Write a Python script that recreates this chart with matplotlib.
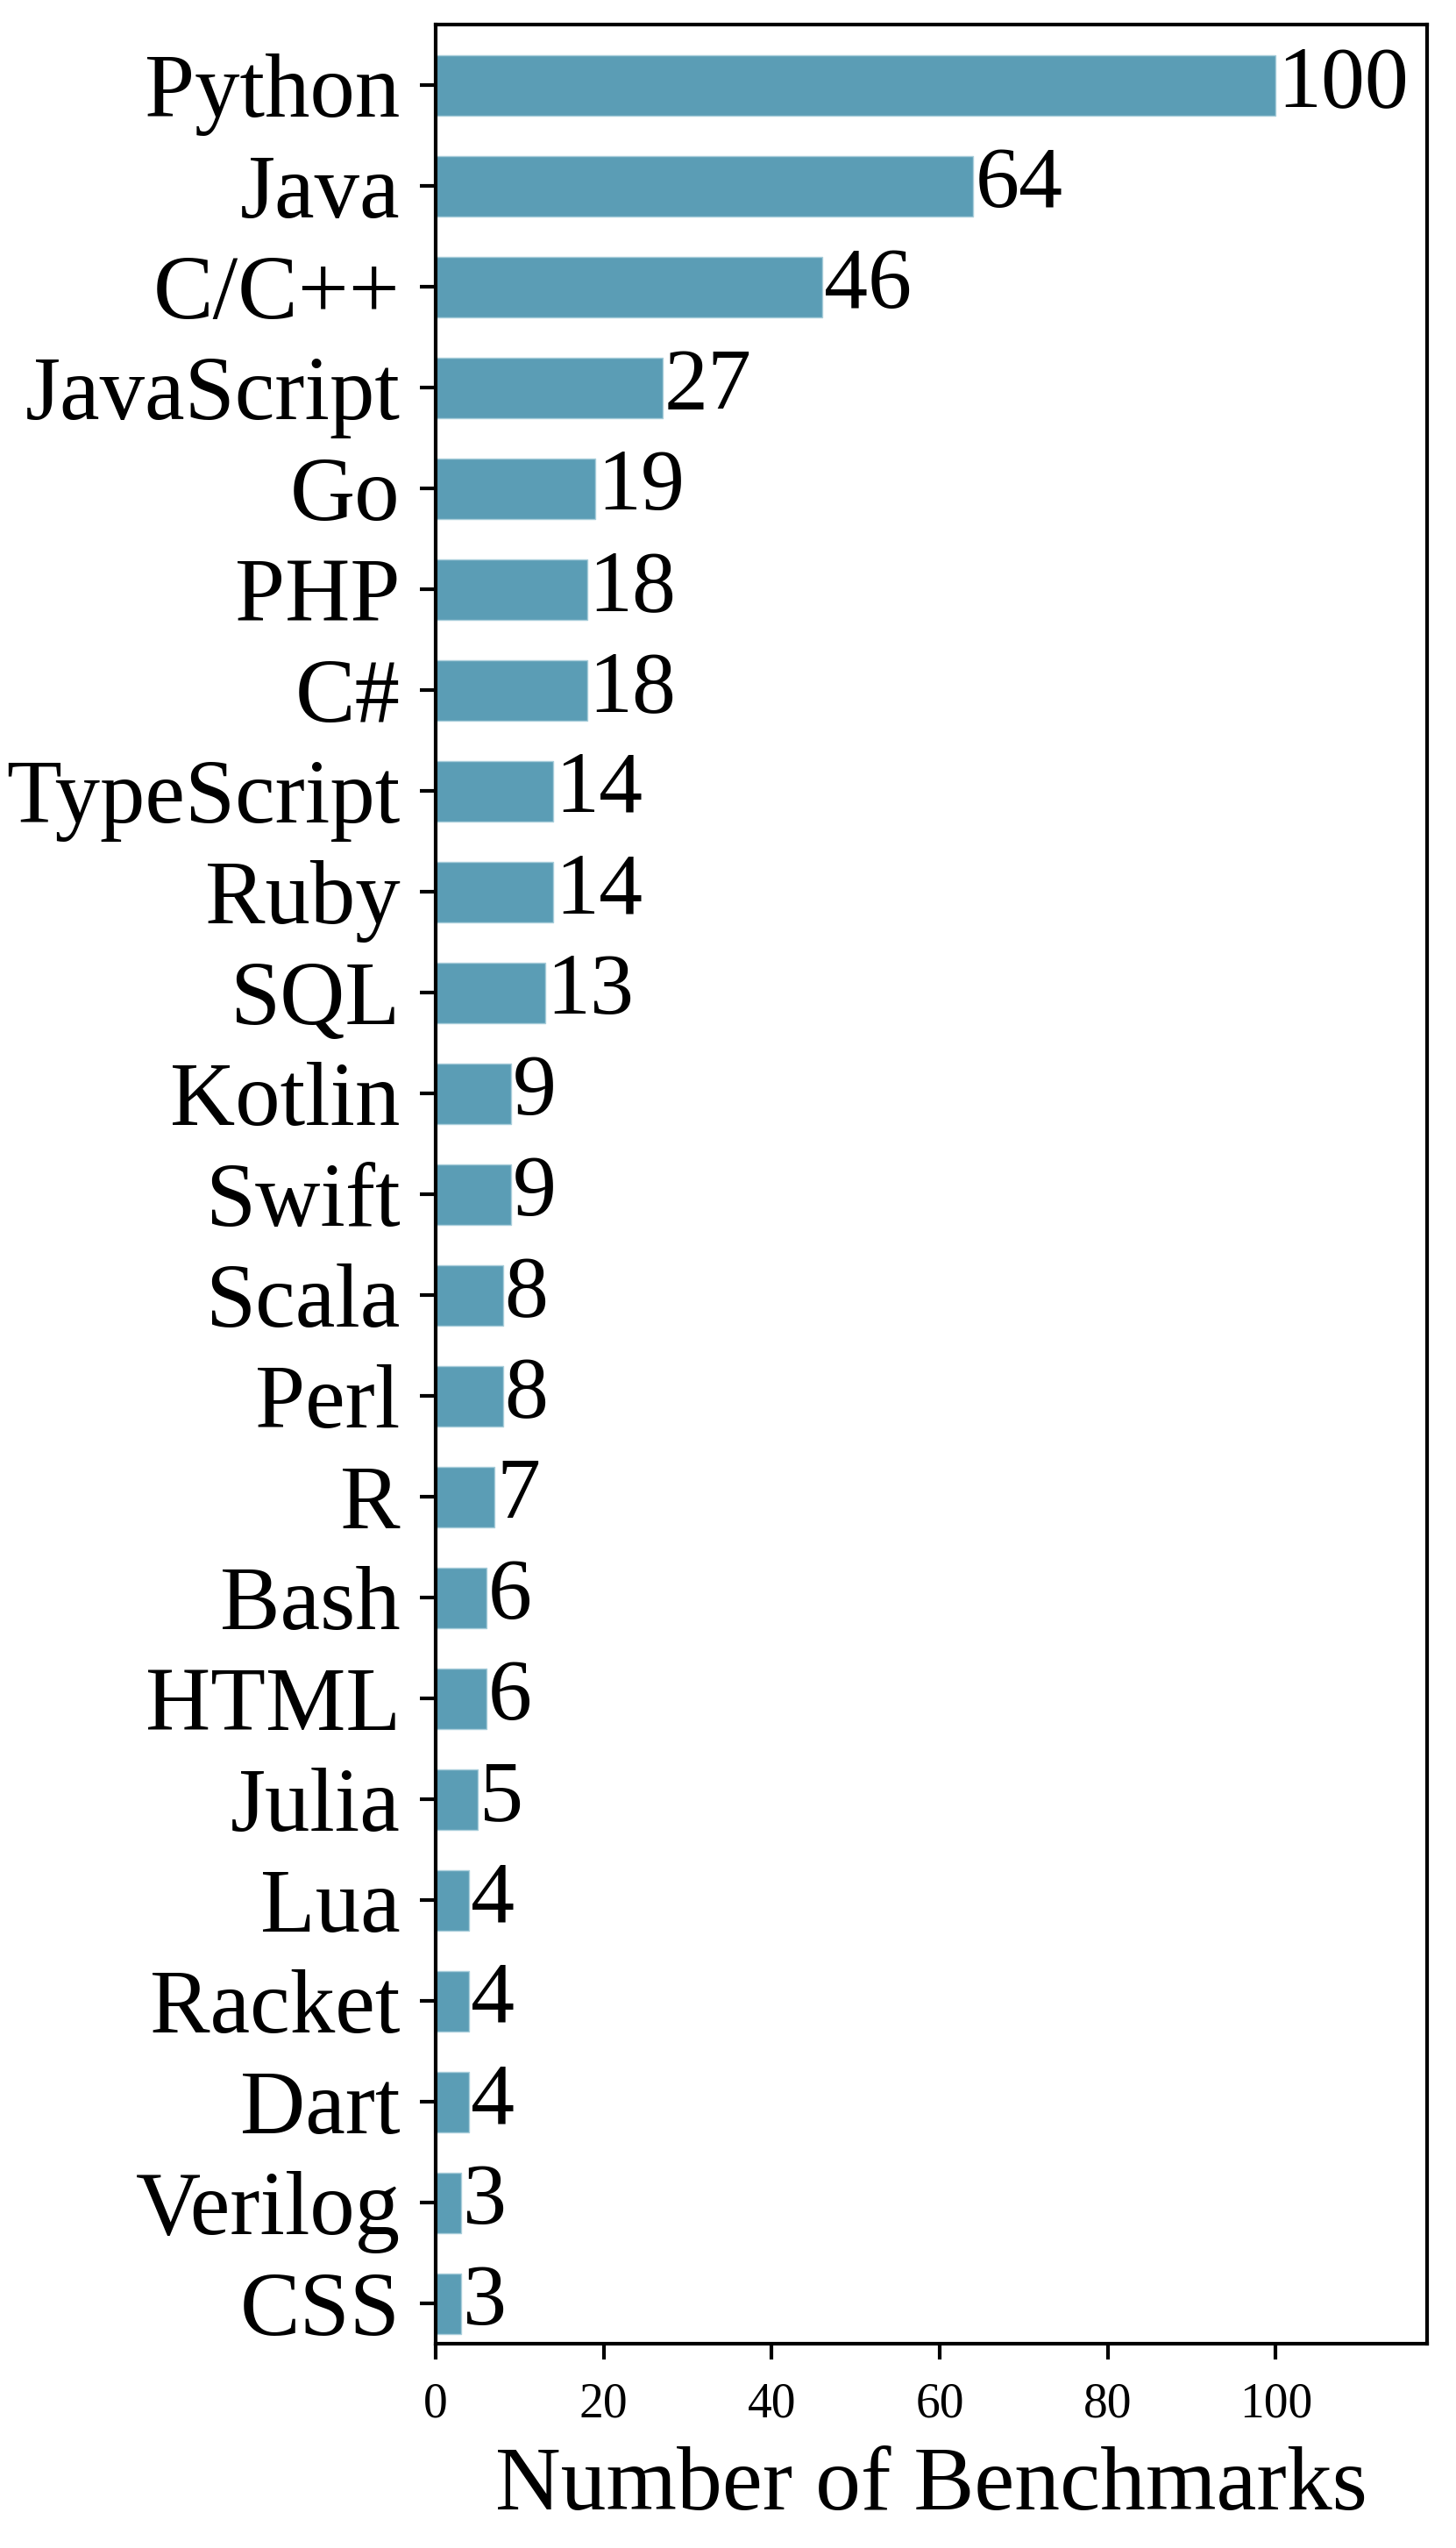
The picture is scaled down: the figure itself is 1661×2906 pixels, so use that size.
import matplotlib
matplotlib.use('Agg')
import matplotlib.pyplot as plt

# benchmark counts per language, top to bottom
languages = ['Python', 'Java', 'C/C++', 'JavaScript', 'Go', 'PHP', 'C#',
             'TypeScript', 'Ruby', 'SQL', 'Kotlin', 'Swift', 'Scala', 'Perl',
             'R', 'Bash', 'HTML', 'Julia', 'Lua', 'Racket', 'Dart',
             'Verilog', 'CSS']
counts = [100, 64, 46, 27, 19, 18, 18, 14, 14, 13, 9, 9, 8, 8, 7, 6, 6, 5,
          4, 4, 4, 3, 3]
xticks = [0, 20, 40, 60, 80, 100]

plt.rcParams['font.family'] = ['Liberation Serif', 'DejaVu Serif']

fig = plt.figure(figsize=(16.61, 29.06), dpi=100)
ax = fig.add_axes([497 / 1661, 233 / 2906, 1131 / 1661, 2645 / 2906])

pos = list(range(len(languages)))
ax.barh(pos, counts, height=0.6, color='#5B9DB5', edgecolor='#A9CEDB',
        linewidth=1.0)
for y, v in zip(pos, counts):
    ax.text(v + 0.2, y, str(v), ha='left', va='center', fontsize=72)

ax.set_yticks(pos)
ax.set_yticklabels(languages, fontsize=74)
ax.set_xticks(xticks)
ax.set_xticklabels([str(t) for t in xticks], fontsize=40)
ax.set_xlim(0, 118)
ax.set_ylim(22.4, -0.6)
ax.set_xlabel('Number of Benchmarks', fontsize=74.5, labelpad=16)

ax.tick_params(axis='y', length=13, width=3, pad=16)
ax.tick_params(axis='x', length=13, width=3, pad=18)
for s in ax.spines.values():
    s.set_linewidth(3)

fig.savefig('out.png', dpi=100)
